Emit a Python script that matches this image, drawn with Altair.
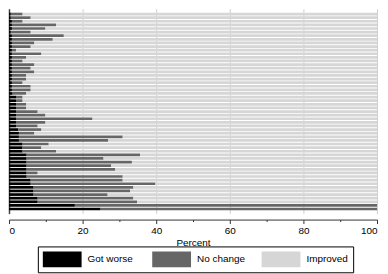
import altair as alt
import pandas as pd

# Share of respondents per row (percent), top row first
got_worse = [0.5, 0.5, 0.8, 0.8, 0.8, 0.5, 0.8, 0.8, 0.8, 0.8,
             0.8, 0.8, 0.8, 0.8, 0.8, 0.8, 0.8, 0.8, 0.8, 0.8,
             0.8, 0.8, 1.0, 1.9, 1.9, 1.9, 1.9, 1.9, 1.9, 1.9,
             1.9, 1.9, 2.5, 2.7, 2.7, 2.7, 3.7, 3.7, 3.7, 4.8,
             4.8, 4.8, 4.8, 4.8, 4.8, 4.8, 5.9, 5.9, 6.7, 6.7,
             6.7, 7.8, 7.8, 17.9, 24.9]
no_change = [3.2, 5.4, 2.9, 12.0, 9.1, 5.4, 14.1, 11.1, 6.1, 5.1,
             1.1, 8.0, 3.9, 2.9, 6.1, 5.1, 6.1, 3.9, 3.9, 2.9,
             5.1, 5.1, 3.7, 1.8, 1.8, 2.8, 2.8, 5.9, 8.0, 20.8,
             8.0, 5.9, 6.3, 4.2, 28.2, 24.2, 7.1, 5.1, 9.1, 30.8,
             20.9, 28.6, 23.0, 24.1, 3.0, 26.1, 25.0, 33.9, 27.1, 26.2,
             20.1, 26.0, 27.0, 82.1, 75.1]
categories = ["Got worse", "No change", "Improved"]
colors = ["#000000", "#666666", "#d6d6d6"]
x_ticks = [0, 10, 20, 30, 40, 50, 60, 70, 80, 90, 100]

rows = []
for i, (g, n) in enumerate(zip(got_worse, no_change)):
    rid = f"r{i:02d}"
    vals = [g, n, round(100 - g - n, 1)]
    for k, (c, v) in enumerate(zip(categories, vals)):
        rows.append({"row": rid, "response": c, "order": k, "percent": v})
df = pd.DataFrame(rows)
row_order = [f"r{i:02d}" for i in range(len(got_worse))]

font = "Liberation Sans"

x_axis = alt.Axis(
    values=x_ticks,
    labelExpr="datum.value % 20 == 0 ? datum.label : ''",
    tickSize={"condition": {"test": "datum.value % 20 == 0", "value": 4}, "value": 2},
    gridOpacity={"condition": {"test": "datum.value % 20 == 0 && datum.value > 0", "value": 1}, "value": 0},
    gridColor="#d0d0d0",
    tickColor="#333333",
    domainColor="#333333",
    offset=6,
    labelFont=font, labelFontSize=10, labelColor="black", labelPadding=2,
    title="Percent", titleFont=font, titleFontSize=10, titleFontWeight="normal",
    titleColor="black", titlePadding=2,
)

y_axis = alt.Axis(labels=False, ticks=False, grid=False, title="",
                  domainColor="#444444", domainWidth=1.5)

# 39x16 swatch: layout size 16x16, path stretched to the right
legend = alt.Legend(
    title=None, orient="none", legendX=29, legendY=239,
    direction="horizontal", columns=3, gridAlign="all",
    symbolType="M-1,-1L3.875,-1L3.875,1L-1,1Z", symbolSize=256,
    symbolStrokeWidth=0, symbolOpacity=1,
    labelFont=font, labelFontSize=10, labelColor="black", labelOffset=29,
    columnPadding=16, padding=5, strokeColor="black", fillColor="white",
)

chart = alt.Chart(df).mark_bar().encode(
    x=alt.X("percent:Q", stack="zero",
            scale=alt.Scale(domain=[0, 100], nice=False), axis=x_axis),
    y=alt.Y("row:N", sort=row_order,
            scale=alt.Scale(paddingInner=0.25, paddingOuter=1, align=0.55),
            axis=y_axis),
    color=alt.Color("response:N",
                    scale=alt.Scale(domain=categories, range=colors),
                    legend=legend),
    order=alt.Order("order:Q"),
).properties(
    width=370, height=206,
    padding={"left": 0, "top": 0, "right": 2, "bottom": 0},
).configure_view(stroke=None)

chart.save("out.html", embed_options={"renderer": "svg", "actions": False})
